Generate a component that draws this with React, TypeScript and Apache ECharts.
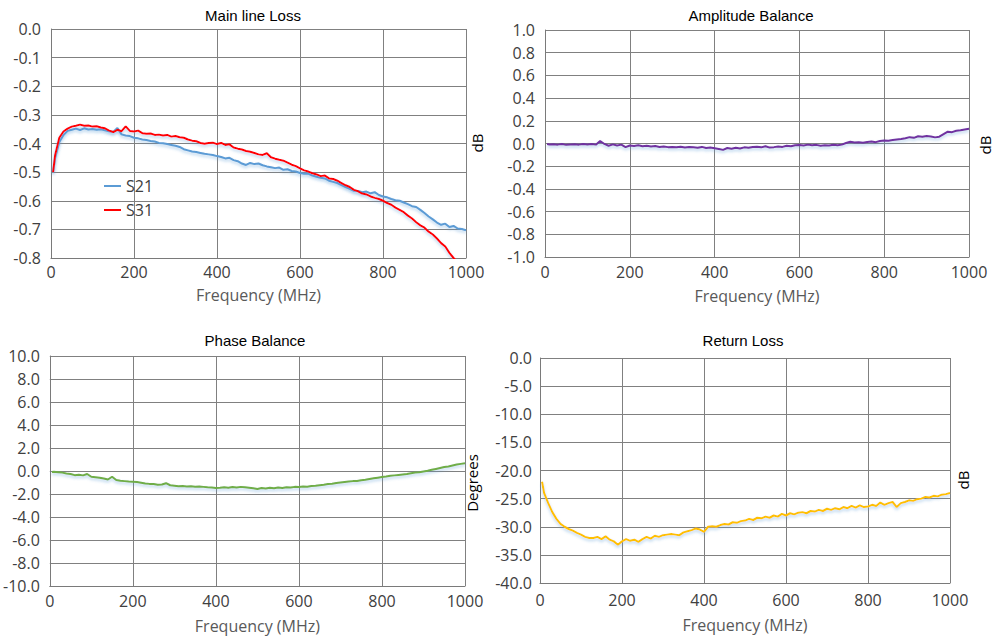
import React, { useEffect, useRef } from "react";
import * as echarts from "echarts";

// Frequency points (MHz)
const freqs = [
  5, 10, 20, 30, 40, 50, 60, 70, 80, 90,
  100, 110, 120, 130, 140, 150, 160, 170, 180, 190,
  200, 210, 220, 230, 240, 250, 260, 270, 280, 290,
  300, 310, 320, 330, 340, 350, 360, 370, 380, 390,
  400, 410, 420, 430, 440, 450, 460, 470, 480, 490,
  500, 510, 520, 530, 540, 550, 560, 570, 580, 590,
  600, 610, 620, 630, 640, 650, 660, 670, 680, 690,
  700, 710, 720, 730, 740, 750, 760, 770, 780, 790,
  800, 810, 820, 830, 840, 850, 860, 870, 880, 890,
  900, 910, 920, 930, 940, 950, 960, 970, 980, 990,
  1000,
];

// Main line loss (dB)
const s21 = [
  -0.5, -0.45, -0.395, -0.37, -0.356, -0.352, -0.348, -0.353, -0.347, -0.351,
  -0.349, -0.352, -0.35, -0.354, -0.357, -0.36, -0.346, -0.368, -0.372, -0.374,
  -0.38, -0.382, -0.386, -0.388, -0.391, -0.393, -0.398, -0.399, -0.402, -0.405,
  -0.408, -0.412, -0.42, -0.424, -0.428, -0.43, -0.433, -0.436, -0.438, -0.44,
  -0.444, -0.447, -0.452, -0.45, -0.458, -0.462, -0.47, -0.475, -0.468, -0.472,
  -0.47, -0.476, -0.48, -0.483, -0.486, -0.484, -0.492, -0.49, -0.496, -0.498,
  -0.503, -0.506, -0.505, -0.512, -0.516, -0.52, -0.522, -0.53, -0.534, -0.538,
  -0.545, -0.552, -0.558, -0.565, -0.566, -0.57, -0.568, -0.574, -0.57, -0.58,
  -0.585, -0.588, -0.594, -0.598, -0.6, -0.606, -0.612, -0.619, -0.622, -0.632,
  -0.643, -0.655, -0.665, -0.676, -0.684, -0.68, -0.692, -0.688, -0.697, -0.699,
  -0.703,
];
const s31 = [
  -0.5, -0.44, -0.38, -0.358, -0.348, -0.341, -0.338, -0.334, -0.338, -0.337,
  -0.341, -0.34, -0.344, -0.347, -0.355, -0.36, -0.352, -0.357, -0.34, -0.356,
  -0.358, -0.355, -0.364, -0.366, -0.365, -0.37, -0.369, -0.372, -0.37, -0.376,
  -0.374, -0.378, -0.38, -0.386, -0.39, -0.392, -0.398, -0.401, -0.398, -0.397,
  -0.402, -0.398, -0.405, -0.403, -0.414, -0.418, -0.421, -0.426, -0.429, -0.433,
  -0.438, -0.44, -0.434, -0.448, -0.453, -0.457, -0.46, -0.467, -0.474, -0.479,
  -0.487, -0.494, -0.498, -0.504, -0.508, -0.514, -0.512, -0.522, -0.524, -0.53,
  -0.538, -0.546, -0.552, -0.562, -0.567, -0.575, -0.578, -0.585, -0.59, -0.594,
  -0.6, -0.608, -0.614, -0.624, -0.632, -0.64, -0.652, -0.662, -0.675, -0.686,
  -0.694, -0.708, -0.718, -0.732, -0.748, -0.76, -0.782, -0.8, -0.812,
];

// Amplitude balance (dB)
const ampBalance = [
  -0.005, -0.008, -0.006, -0.01, -0.004, -0.012, -0.008, -0.006, -0.01, -0.004,
  -0.008, -0.004, -0.01, 0.022, -0.004, -0.02, -0.008, -0.018, -0.01, -0.032,
  -0.018, -0.022, -0.016, -0.024, -0.02, -0.026, -0.022, -0.03, -0.026, -0.032,
  -0.03, -0.034, -0.028, -0.036, -0.03, -0.034, -0.038, -0.03, -0.04, -0.036,
  -0.042, -0.048, -0.056, -0.04, -0.046, -0.038, -0.044, -0.034, -0.038, -0.03,
  -0.028, -0.034, -0.024, -0.036, -0.032, -0.026, -0.03, -0.02, -0.024, -0.016,
  -0.014, -0.018, -0.01, -0.016, -0.012, -0.02, -0.016, -0.018, -0.012, -0.016,
  -0.01, 0.004, 0.016, 0.008, 0.012, 0.006, 0.014, 0.018, 0.012, 0.022,
  0.026, 0.024, 0.03, 0.036, 0.04, 0.046, 0.056, 0.05, 0.064, 0.06,
  0.066, 0.062, 0.054, 0.06, 0.082, 0.104, 0.1, 0.112, 0.116, 0.124,
  0.13,
];

// Phase balance (degrees)
const phaseBalance = [
  -0.08, -0.06, -0.1, -0.14, -0.22, -0.26, -0.36, -0.32, -0.38, -0.26,
  -0.5, -0.54, -0.58, -0.66, -0.74, -0.5, -0.78, -0.84, -0.88, -0.92,
  -0.94, -0.96, -1.02, -1.08, -1.12, -1.14, -1.2, -1.18, -1.06, -1.24,
  -1.28, -1.32, -1.3, -1.34, -1.32, -1.36, -1.34, -1.38, -1.42, -1.44,
  -1.48, -1.46, -1.42, -1.46, -1.4, -1.44, -1.38, -1.42, -1.46, -1.5,
  -1.56, -1.48, -1.52, -1.46, -1.5, -1.44, -1.48, -1.42, -1.44, -1.38,
  -1.4, -1.34, -1.36, -1.3, -1.28, -1.24, -1.2, -1.14, -1.1, -1.04,
  -1.0, -0.96, -0.92, -0.88, -0.86, -0.8, -0.76, -0.7, -0.64, -0.58,
  -0.52, -0.48, -0.42, -0.38, -0.34, -0.3, -0.26, -0.2, -0.14, -0.1,
  -0.04, 0.02, 0.1, 0.18, 0.26, 0.34, 0.4, 0.48, 0.56, 0.62,
  0.68,
];

// Return loss (dB)
const returnLoss = [
  -22.0, -24.0, -25.8, -27.4, -28.6, -29.5, -30.0, -30.4, -30.7, -31.1,
  -31.4, -31.8, -32.0, -32.0, -31.8, -32.2, -31.7, -32.3, -32.6, -33.2,
  -32.6, -32.2, -32.5, -32.3, -32.7, -32.2, -31.8, -32.1, -31.6, -31.8,
  -31.5, -31.4, -31.3, -31.4, -31.5, -31.0, -30.8, -30.6, -30.3, -30.5,
  -30.9, -30.0, -29.9, -30.0, -29.7, -29.5, -29.6, -29.2, -29.3, -29.0,
  -28.9, -28.6, -28.8, -28.4, -28.5, -28.2, -28.4, -28.0, -28.2, -27.7,
  -28.0, -27.6, -27.8, -27.5, -27.4, -27.6, -27.2, -27.3, -27.0, -27.2,
  -26.8, -27.0, -26.7, -26.9, -26.5, -26.7, -26.3, -26.6, -26.2, -26.5,
  -26.4, -26.1, -26.3, -25.7, -26.1, -25.8, -25.6, -26.5, -25.8, -25.6,
  -25.3, -25.4, -25.1, -25.0, -24.7, -24.8, -24.5, -24.6, -24.3, -24.2,
  -24.0,
];

const titles = ["Main line Loss", "Amplitude Balance", "Phase Balance", "Return Loss"];
const sideLabels = ["dB", "dB", "Degrees", "dB"];
const xAxisName = "Frequency (MHz)";
const yRanges = [
  { min: -0.8, max: 0, interval: 0.1 },
  { min: -1, max: 1, interval: 0.2 },
  { min: -10, max: 10, interval: 2 },
  { min: -40, max: 0, interval: 5 },
];

const FONT = "'Open Sans', 'Noto Sans', sans-serif";
const TITLE_FONT = "'Liberation Sans', Arial, sans-serif";

const pairs = (vals: number[]) => vals.map((v, i) => [freqs[i], v]);

export default function App() {
  const ref = useRef<HTMLDivElement>(null);

  useEffect(() => {
    const chart = echarts.init(ref.current!, null, { renderer: "svg" });

    const grids = [
      { left: 51, top: 29, width: 415, height: 229 },
      { left: 545, top: 30, width: 424, height: 227 },
      { left: 49, top: 356, width: 416, height: 230 },
      { left: 540, top: 358, width: 410, height: 225 },
    ];
    const xLabelMargins = [6, 7, 7, 9];
    const xNameGaps = [29, 31, 32, 34];
    const yLabelMargins = [10, 10, 10, 8];

    const fmt = (v: number) => (Math.abs(v) < 1e-9 ? "0.0" : v.toFixed(1));

    const xAxis = grids.map((_, i) => ({
      gridIndex: i,
      type: "value",
      min: 0,
      max: 1000,
      interval: 200,
      axisLine: { show: true, onZero: false, lineStyle: { color: "#7a7a7a", width: 1 } },
      axisTick: { show: false },
      splitLine: { show: true, lineStyle: { color: "#808080", width: 1 } },
      axisLabel: {
        fontSize: 16,
        color: "#404040",
        fontFamily: FONT,
        margin: xLabelMargins[i],
        formatter: (v: number) => String(Math.round(v)),
      },
      name: xAxisName,
      nameLocation: "middle",
      nameGap: xNameGaps[i],
      nameTextStyle: { fontSize: 16, color: "#595959", fontFamily: FONT },
    }));

    const yAxis = grids.map((_, i) => ({
      gridIndex: i,
      type: "value",
      min: yRanges[i].min,
      max: yRanges[i].max,
      interval: yRanges[i].interval,
      axisLine: { show: true, onZero: false, lineStyle: { color: "#7a7a7a", width: 1 } },
      axisTick: { show: false },
      splitLine: { show: true, lineStyle: { color: "#808080", width: 1 } },
      axisLabel: {
        fontSize: 16,
        color: "#404040",
        fontFamily: FONT,
        margin: yLabelMargins[i],
        formatter: fmt,
      },
    }));

    const mkLine = (name: string, idx: number, data: number[][], color: string) => ({
      name,
      type: "line",
      xAxisIndex: idx,
      yAxisIndex: idx,
      data,
      showSymbol: false,
      symbol: "none",
      clip: true,
      lineStyle: {
        color,
        width: 2,
        shadowColor: "rgba(91,155,213,0.45)",
        shadowBlur: 3,
        shadowOffsetY: 2,
      },
      itemStyle: { color },
    });

    const titlePos = [
      [253, 15],
      [751, 15],
      [255, 340],
      [743, 340],
    ];
    const sidePos = [
      [477, 143],
      [985, 145],
      [472, 483],
      [963, 480],
    ];

    const graphic: any[] = [];
    titles.forEach((t, i) => {
      graphic.push({
        type: "text",
        x: titlePos[i][0],
        y: titlePos[i][1],
        style: {
          text: t,
          fontSize: 15,
          fontFamily: TITLE_FONT,
          fill: "#000",
          align: "center",
          verticalAlign: "middle",
          textAlign: "center",
          textVerticalAlign: "middle",
        },
      });
    });
    sideLabels.forEach((t, i) => {
      graphic.push({
        type: "text",
        x: sidePos[i][0],
        y: sidePos[i][1],
        rotation: Math.PI / 2,
        style: {
          text: t,
          fontSize: 15,
          fontFamily: FONT,
          fill: "#000",
          align: "center",
          verticalAlign: "middle",
          textAlign: "center",
          textVerticalAlign: "middle",
        },
      });
    });

    chart.setOption({
      animation: false,
      backgroundColor: "#ffffff",
      grid: grids.map((g) => ({ ...g, containLabel: false })),
      xAxis,
      yAxis,
      legend: {
        data: ["S21", "S31"],
        orient: "vertical",
        left: 99,
        top: 173,
        icon: "rect",
        itemWidth: 17,
        itemHeight: 2,
        itemGap: 8,
        textStyle: { fontSize: 16, color: "#404040", fontFamily: FONT },
      },
      graphic,
      series: [
        mkLine("S21", 0, pairs(s21), "#5b9bd5"),
        mkLine("S31", 0, pairs(s31), "#ff0000"),
        mkLine("Amplitude Balance", 1, pairs(ampBalance), "#7030a0"),
        mkLine("Phase Balance", 2, pairs(phaseBalance), "#70ad47"),
        mkLine("Return Loss", 3, pairs(returnLoss), "#ffc000"),
      ],
    });

    return () => chart.dispose();
  }, []);

  return (
    <div
      ref={ref}
      style={{ position: "absolute", left: 0, top: 0, width: 999, height: 637, background: "#fff" }}
    />
  );
}
